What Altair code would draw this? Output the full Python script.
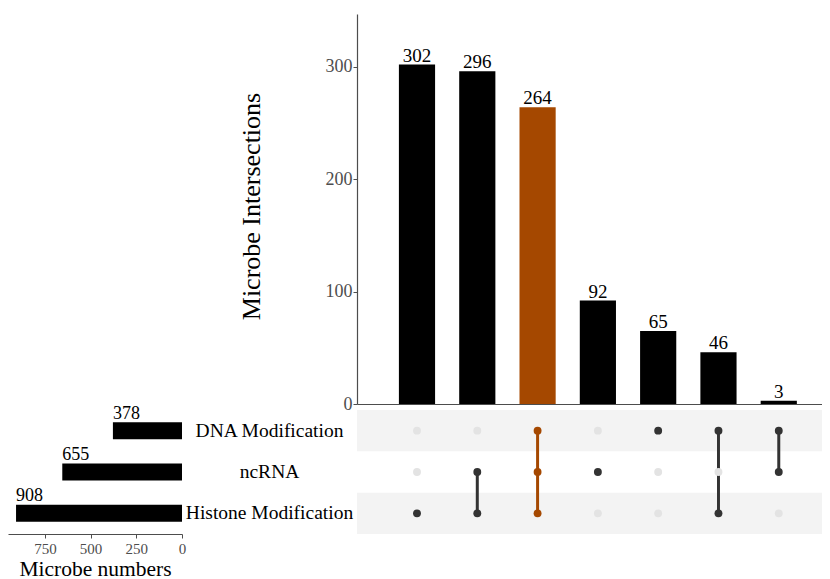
import altair as alt
import pandas as pd

# ---- data ----
set_names = ["DNA Modification", "ncRNA", "Histone Modification"]
set_sizes = [378, 655, 908]

combo_names = ["Histone only", "ncRNA + Histone", "All three", "ncRNA only",
               "DNA only", "DNA + Histone", "DNA + ncRNA"]
combo_counts = [302, 296, 264, 92, 65, 46, 3]
combo_members = [
    ["Histone Modification"],
    ["ncRNA", "Histone Modification"],
    ["DNA Modification", "ncRNA", "Histone Modification"],
    ["ncRNA"],
    ["DNA Modification"],
    ["DNA Modification", "Histone Modification"],
    ["DNA Modification", "ncRNA"],
]
highlighted = ["All three"]

# ---- tables built from the arrays ----
bars_df = pd.DataFrame({
    "combo": combo_names,
    "count": combo_counts,
    "bar_kind": ["highlight" if c in highlighted else "normal" for c in combo_names],
})

dot_rows = []
line_rows = []
for c, mem in zip(combo_names, combo_members):
    hl = c in highlighted
    for s in set_names:
        if s in mem:
            k = "highlight" if hl else "active"
        else:
            k = "inactive"
        dot_rows.append({"combo": c, "set": s, "dot_kind": k})
    if len(mem) > 1:
        idx = sorted(set_names.index(m) for m in mem)
        line_rows.append({"combo": c, "top": set_names[idx[0]],
                          "bottom": set_names[idx[-1]],
                          "dot_kind": "highlight" if hl else "active"})
dots_df = pd.DataFrame(dot_rows)
lines_df = pd.DataFrame(line_rows)
stripe_df = pd.DataFrame({"set": [set_names[0], set_names[2]]})
sets_df = pd.DataFrame({"set": set_names, "size": set_sizes})

HL = "#a54800"
AX = "#4d4d4d"
MAIN_W = 465
MAIN_H = 390
MAT_H = 124
LEFT_W = 174

x_scale = alt.Scale(domain=combo_names, paddingInner=0.4, paddingOuter=0.556, align=0.625)
dot_color = alt.Color("dot_kind:N", legend=None,
                      scale=alt.Scale(domain=["inactive", "active", "highlight"],
                                      range=["#e3e3e3", "#333333", HL]))

# ---- main intersection bars ----
base = alt.Chart(bars_df).encode(
    x=alt.X("combo:N", sort=combo_names, scale=x_scale,
            axis=alt.Axis(title=None, labels=False, ticks=False,
                          domainColor=AX, domainWidth=1.2)),
    y=alt.Y("count:Q", scale=alt.Scale(domain=[0, 347], nice=False),
            axis=alt.Axis(values=[0, 100, 200, 300], grid=False,
                          title="Microbe Intersections", titleFontSize=26,
                          titleFontWeight="normal", titleColor="black",
                          titleX=-106, titleY=192, titleBaseline="middle",
                          labelFontSize=18, labelColor=AX, labelPadding=1,
                          labelFlush=False, tickSize=4, tickColor=AX,
                          domainColor=AX, domainWidth=1.2)),
)
main_bars = base.mark_bar().encode(
    color=alt.Color("bar_kind:N", legend=None,
                    scale=alt.Scale(domain=["normal", "highlight"], range=["black", HL]))
)
main_text = base.mark_text(baseline="alphabetic", dy=-3, fontSize=19, color="black").encode(
    text="count:Q")
main = alt.layer(main_bars, main_text).properties(width=MAIN_W, height=MAIN_H)

# ---- matrix ----
y_mat = alt.Scale(domain=set_names, paddingInner=0, paddingOuter=0)
stripes = alt.Chart(stripe_df).mark_rect(color="#f3f3f3").encode(
    y=alt.Y("set:N", sort=set_names, scale=y_mat,
            axis=alt.Axis(title=None, ticks=False, domain=False, labelAlign="center",
                          labelBaseline="middle", labelPadding=88, labelFontSize=19.5,
                          labelColor="black", labelLimit=0)),
    x=alt.value(0), x2=alt.value(MAIN_W),
)
lines = alt.Chart(lines_df).mark_rule(strokeWidth=3).encode(
    x=alt.X("combo:N", sort=combo_names, scale=x_scale, axis=None),
    y=alt.Y("top:N", sort=set_names, scale=y_mat),
    y2="bottom",
    color=dot_color,
)
dots = alt.Chart(dots_df).mark_circle(size=62, opacity=1).encode(
    x=alt.X("combo:N", sort=combo_names, scale=x_scale, axis=None),
    y=alt.Y("set:N", sort=set_names, scale=y_mat),
    color=dot_color,
)
matrix = alt.layer(stripes, lines, dots).properties(width=MAIN_W, height=MAT_H)

# ---- set size bars ----
sbase = alt.Chart(sets_df).encode(
    y=alt.Y("set:N", sort=set_names, scale=alt.Scale(paddingInner=0, paddingOuter=0), axis=None),
    x=alt.X("size:Q", scale=alt.Scale(domain=[0, 952], reverse=True, nice=False),
            axis=alt.Axis(values=[0, 250, 500, 750], grid=False, title="Microbe numbers",
                          titleFontSize=21.5, titleFontWeight="normal", titleColor="black",
                          titlePadding=2, labelFontSize=15, labelColor=AX, labelPadding=3,
                          labelFlush=False, tickSize=4, tickColor=AX,
                          domainColor=AX, domainWidth=1.2)),
)
set_bars = sbase.mark_bar(size=17, color="black")
set_text = sbase.mark_text(align="left", baseline="alphabetic", dy=-12, fontSize=18,
                           color="black").encode(text="size:Q")
setsize = alt.layer(set_bars, set_text).properties(width=LEFT_W, height=MAT_H)

spacer = alt.Chart(pd.DataFrame({"a": [0]})).mark_point(opacity=0).encode(
    x=alt.X("a:Q", axis=None), y=alt.Y("a:Q", axis=None)
).properties(width=LEFT_W, height=MAIN_H)

chart = alt.concat(
    spacer, main, setsize, matrix, columns=2,
    spacing={"row": 6, "column": 175}, bounds="flush",
).resolve_scale(color="independent").properties(
    padding={"left": 0, "top": 6, "right": 0, "bottom": 0}
).configure(font="Liberation Serif").configure_view(strokeWidth=0, stroke="transparent")

chart.save("out.html", embed_options={"renderer": "svg", "actions": False})
